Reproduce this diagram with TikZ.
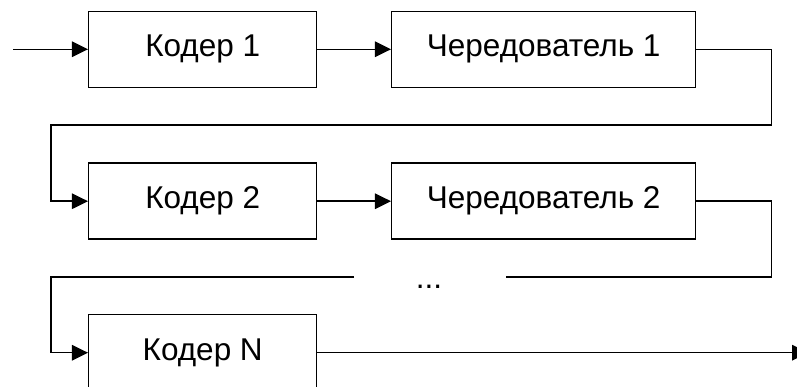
\documentclass[tikz,border=0pt]{standalone}
\usepackage{fontspec}
\setmainfont{Liberation Sans}
\usetikzlibrary{arrows.meta}
\begin{document}
\begin{tikzpicture}[x=1pt,y=-1pt,
  box/.style={draw,line width=1.5pt,minimum height=76pt,inner sep=0pt,font=\fontsize{31.5}{38}\selectfont},
  kbox/.style={box,minimum width=228pt},
  cbox/.style={box,minimum width=304pt},
  conn/.style={line width=1.5pt},
  arr/.style={conn,-{Triangle[length=16pt,width=15.5pt]}}]
\clip (0,0) rectangle (797,387);
\node[kbox] (k1) at (202.7,49.3) {Кодер 1};
\node[cbox] (c1) at (543.7,49.3) {Чередователь 1};
\node[kbox] (k2) at (202.7,201.2) {Кодер 2};
\node[cbox] (c2) at (543.7,201.2) {Чередователь 2};
\node[kbox] (kN) at (202.7,352.7) {Кодер N};
\node[anchor=base,inner sep=0pt,font=\fontsize{31.5}{38}\selectfont] (dots) at (429,288) {...};
\coordinate (in) at (13,49.3);
\coordinate (r1) at (771.7,125);
\coordinate (l1) at (51,125);
\coordinate (r2) at (771.7,277);
\coordinate (g1) at (506,277);
\coordinate (g2) at (354,277);
\coordinate (l2) at (51,277);
\coordinate (out) at (808,352.7);
\draw[arr] (in) -- (k1.west);
\draw[arr] (k1.east) -- (c1.west);
\draw[arr] (c1.east) -| (r1) -- (l1) |- (k2.west);
\draw[arr] (k2.east) -- (c2.west);
\draw[conn] (c2.east) -| (r2) -- (g1);
\draw[arr] (g2) -- (l2) |- (kN.west);
\draw[arr] (kN.east) -- (out);
\end{tikzpicture}
\end{document}
